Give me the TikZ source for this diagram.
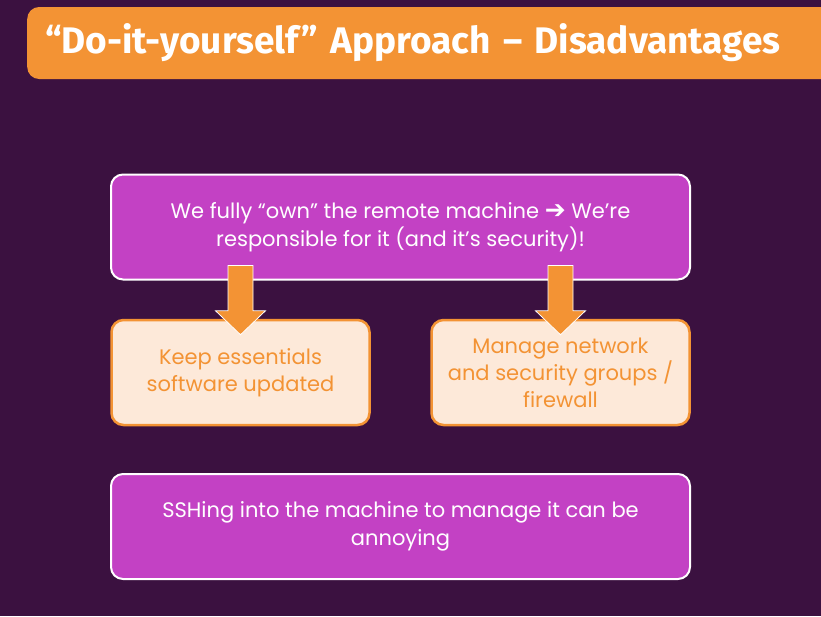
\documentclass[tikz,border=0pt]{standalone}
\usepackage{fontspec}
\setmainfont{Poppins}
\newfontfamily\titlefont{Fira Sans}
\newfontfamily\symfont{DejaVu Sans}
\usetikzlibrary{calc,positioning}
\definecolor{bgpurple}{HTML}{3B1140}
\definecolor{dorange}{HTML}{F39334}
\definecolor{boxpurple}{HTML}{C341C4}
\definecolor{peach}{HTML}{FDE9D9}

% block arrow from the bottom of #1 down into the top of #2
\newcommand\blockarrow[2]{%
  \draw[white, line width=0.8pt, fill=dorange, line join=miter]
    let \p1 = (#2.north), \p2 = (#1.south) in
    (\x1-12.5pt,\y2+15pt) -- (\x1+12.5pt,\y2+15pt) -- (\x1+12.5pt,\y1+8pt)
    -- (\x1+25pt,\y1+8pt) -- (\x1,\y1-16pt) -- (\x1-25pt,\y1+8pt)
    -- (\x1-12.5pt,\y1+8pt) -- cycle;
}

\begin{document}
\begin{tikzpicture}[x=1pt,y=-1pt]
        \tikzstyle{titlebox} = [fill=dorange, rounded corners=12pt, anchor=west, text=white, minimum height=72pt, text width=800pt, inner xsep=18pt, align=left, font=\titlefont\bfseries\fontsize{37}{42}\selectfont]
        \tikzstyle{mbox} = [draw=white, line width=2pt, fill=boxpurple, rounded corners=12pt, minimum width=579pt, minimum height=105pt, text=white, align=center, font=\fontsize{21}{28}\selectfont]
        \tikzstyle{pbox} = [draw=dorange, line width=2.5pt, fill=peach, rounded corners=12pt, minimum width=258pt, minimum height=105pt, text=dorange, align=center, font=\fontsize{21}{27}\selectfont]

        \useasboundingbox (0,0) rectangle (821,616);
        \fill[bgpurple] (0,0) rectangle (821,616);

        \node[titlebox] (title) at (27,43) {“Do-it-yourself” Approach – Disadvantages};

        \node[mbox] (own) at (400.5,227) {We fully “own” the remote machine {\symfont\bfseries\fontsize{25}{28}\selectfont ➔} We’re\\responsible for it (and it’s security)!};
        \node[pbox] (update) at (240.5,372.5) {Keep essentials\\software updated};
        \node[pbox] (network) at (560.5,372.5) {Manage network\\and security groups /\\firewall};
        \node[mbox] (ssh) at (400.5,526.5) {SSHing into the machine to manage it can be\\annoying};

        \blockarrow{own}{update}
        \blockarrow{own}{network}
\end{tikzpicture}
\end{document}
